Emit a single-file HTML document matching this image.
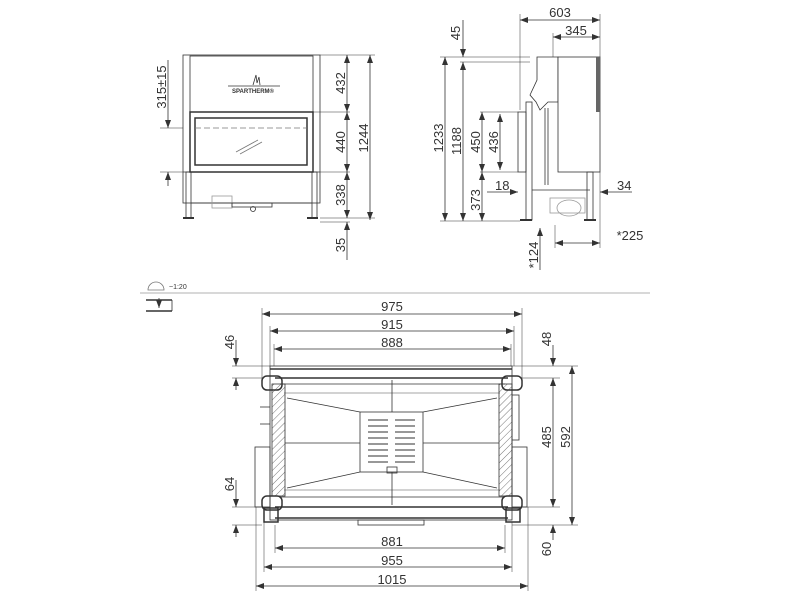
<!DOCTYPE html>
<html><head><meta charset="utf-8"><style>
html,body{margin:0;padding:0;background:#fff;width:800px;height:600px;overflow:hidden}
svg{display:block}
text{font-family:"Liberation Sans",sans-serif;fill:#333}
</style></head><body>
<svg width="800" height="600" viewBox="0 0 800 600" xmlns="http://www.w3.org/2000/svg">
<defs>
<marker id="a" markerWidth="8" markerHeight="6" refX="8" refY="3" orient="auto-start-reverse" markerUnits="userSpaceOnUse"><path d="M0,0 L8,3 L0,6 z" fill="#333"/></marker>
<pattern id="h" width="5" height="5" patternUnits="userSpaceOnUse" patternTransform="rotate(45)"><line x1="0" y1="0" x2="0" y2="5" stroke="#777" stroke-width="1"/></pattern>
</defs>
<g stroke="#333" stroke-width="0.8" fill="none">
<!-- FRONT VIEW -->
<rect x="183" y="55" width="137" height="148" fill="#fff"/>
<rect x="190" y="56" width="123" height="56"/>
<rect x="190" y="112" width="123" height="60" stroke-width="1.5"/>
<rect x="195" y="118" width="112" height="47" stroke-width="1.5"/>
<line x1="195" y1="128" x2="307" y2="128" stroke-dasharray="6,3" stroke="#777"/>
<line x1="236" y1="152" x2="258" y2="140" stroke="#777"/><line x1="240" y1="154" x2="262" y2="142" stroke="#777"/>
<line x1="183" y1="172" x2="320" y2="172"/>
<rect x="186" y="172" width="5" height="46"/><rect x="312" y="172" width="5" height="46"/>
<line x1="191" y1="203" x2="312" y2="203"/>
<rect x="212" y="196" width="20" height="12" stroke="#999"/>
<rect x="232" y="203" width="40" height="4"/>
<circle cx="253" cy="209" r="2.5"/>
<line x1="183" y1="218" x2="194" y2="218" stroke-width="2"/><line x1="307" y1="218" x2="318" y2="218" stroke-width="2"/>
<path d="M253,85 l3,-10 l1,8 l2,-6 l1,8" />
<line x1="228" y1="86" x2="280" y2="86"/>
<!-- front dims -->
<line x1="320" y1="55" x2="375" y2="55" stroke-width="0.5"/>
<line x1="313" y1="112" x2="350" y2="112" stroke-width="0.5"/>
<line x1="320" y1="172" x2="350" y2="172" stroke-width="0.5"/>
<line x1="320" y1="218" x2="375" y2="218" stroke-width="0.5"/>
<line x1="320" y1="222" x2="350" y2="222" stroke-width="0.5"/>
<line x1="347" y1="55" x2="347" y2="112" marker-start="url(#a)" marker-end="url(#a)"/>
<line x1="347" y1="112" x2="347" y2="172" marker-start="url(#a)" marker-end="url(#a)"/>
<line x1="347" y1="172" x2="347" y2="218" marker-start="url(#a)" marker-end="url(#a)"/>
<line x1="347" y1="222" x2="347" y2="260" marker-start="url(#a)"/>
<line x1="370" y1="55" x2="370" y2="220" marker-start="url(#a)" marker-end="url(#a)"/>
<line x1="168" y1="60" x2="168" y2="128" marker-end="url(#a)"/>
<line x1="168" y1="172" x2="168" y2="186" marker-start="url(#a)"/>
<line x1="160" y1="128" x2="183" y2="128" stroke-width="0.5"/>
<line x1="160" y1="172" x2="183" y2="172" stroke-width="0.5"/>
<!-- SIDE VIEW -->
<path d="M537,57 L558,57 L558,102 L548,102 L540,110 L536,102 L530,95 L537,80 Z" fill="#fff"/>
<rect x="558" y="57" width="42" height="115" fill="#fff"/>
<rect x="596" y="57" width="4" height="55" fill="#666" stroke="none"/>
<rect x="518" y="112" width="8" height="60"/>
<rect x="526" y="102" width="6" height="118"/>
<line x1="545" y1="108" x2="545" y2="185"/><line x1="548" y1="108" x2="548" y2="185"/>
<line x1="532" y1="190" x2="590" y2="190"/>
<rect x="587" y="172" width="6" height="48"/>
<ellipse cx="569" cy="208" rx="12" ry="8" stroke="#999"/>
<rect x="550" y="198" width="35" height="15" stroke="#999"/>
<line x1="520" y1="220" x2="532" y2="220" stroke-width="2"/><line x1="584" y1="220" x2="596" y2="220" stroke-width="2"/>
<!-- side dims -->
<line x1="520" y1="20" x2="600" y2="20" marker-start="url(#a)" marker-end="url(#a)"/>
<line x1="553" y1="37" x2="600" y2="37" marker-start="url(#a)" marker-end="url(#a)"/>
<line x1="520" y1="14" x2="520" y2="110" stroke-width="0.5"/>
<line x1="600" y1="14" x2="600" y2="57" stroke-width="0.5"/>
<line x1="553" y1="33" x2="553" y2="57" stroke-width="0.5"/>
<line x1="440" y1="57" x2="530" y2="57" stroke-width="0.5"/>
<line x1="460" y1="62" x2="530" y2="62" stroke-width="0.5"/>
<line x1="480" y1="112" x2="518" y2="112" stroke-width="0.5"/>
<line x1="480" y1="172" x2="518" y2="172" stroke-width="0.5"/>
<line x1="440" y1="221" x2="520" y2="221" stroke-width="0.5"/>
<line x1="445" y1="57" x2="445" y2="221" marker-start="url(#a)" marker-end="url(#a)"/>
<line x1="463" y1="62" x2="463" y2="221" marker-start="url(#a)" marker-end="url(#a)"/>
<line x1="463" y1="20" x2="463" y2="57" marker-end="url(#a)"/>
<line x1="482" y1="112" x2="482" y2="172" marker-start="url(#a)" marker-end="url(#a)"/>
<line x1="500" y1="114" x2="500" y2="170" marker-start="url(#a)" marker-end="url(#a)"/>
<line x1="482" y1="172" x2="482" y2="221" marker-start="url(#a)" marker-end="url(#a)"/>
<line x1="487" y1="192" x2="518" y2="192" marker-end="url(#a)"/>
<line x1="600" y1="192" x2="632" y2="192" marker-start="url(#a)"/>
<line x1="555" y1="243" x2="600" y2="243" marker-start="url(#a)" marker-end="url(#a)"/>
<line x1="600" y1="172" x2="600" y2="248" stroke-width="0.5"/>
<line x1="555" y1="225" x2="555" y2="248" stroke-width="0.5"/>
<line x1="540" y1="228" x2="540" y2="270" marker-start="url(#a)"/>
<!-- separator -->
<line x1="140" y1="293" x2="650" y2="293" stroke="#999"/>
<path d="M148,290 a8,8 0 0 1 16,0 z" stroke="#777"/>
<line x1="146" y1="300" x2="172" y2="300" stroke-width="1.5"/>
<line x1="146" y1="311" x2="172" y2="311" stroke-width="1.5"/>
<line x1="172" y1="300" x2="172" y2="311"/>
<line x1="159" y1="298" x2="159" y2="308" marker-end="url(#a)"/>
<!-- PLAN VIEW -->
<rect x="270" y="366" width="242" height="154" fill="#fff"/>
<line x1="270" y1="369" x2="512" y2="369" stroke-width="1.5"/>
<line x1="275" y1="378" x2="508" y2="378" stroke-width="1.5"/>
<line x1="280" y1="384" x2="505" y2="384"/>
<line x1="284" y1="393" x2="500" y2="393" stroke="#888"/>
<line x1="280" y1="497" x2="505" y2="497"/>
<line x1="284" y1="490" x2="500" y2="490" stroke="#888"/>
<line x1="275" y1="507" x2="508" y2="507" stroke-width="1.5"/>
<line x1="275" y1="518" x2="508" y2="518" stroke-width="1.5"/>
<rect x="272" y="384" width="13" height="112" fill="url(#h)"/>
<rect x="499" y="384" width="13" height="112" fill="url(#h)"/>
<line x1="392" y1="380" x2="392" y2="505"/>
<line x1="285" y1="443" x2="499" y2="443"/>
<line x1="287" y1="398" x2="360" y2="412"/><line x1="497" y1="398" x2="423" y2="412"/>
<line x1="287" y1="488" x2="360" y2="472"/><line x1="497" y1="488" x2="423" y2="472"/>
<rect x="360" y="412" width="63" height="60" fill="#fff"/>
<g stroke="#777" stroke-width="1.5">
<line x1="368" y1="420" x2="388" y2="420"/><line x1="395" y1="420" x2="415" y2="420"/>
<line x1="368" y1="426" x2="388" y2="426"/><line x1="395" y1="426" x2="415" y2="426"/>
<line x1="368" y1="432" x2="388" y2="432"/><line x1="395" y1="432" x2="415" y2="432"/>
<line x1="368" y1="438" x2="388" y2="438"/><line x1="395" y1="438" x2="415" y2="438"/>
<line x1="368" y1="444" x2="388" y2="444"/><line x1="395" y1="444" x2="415" y2="444"/>
<line x1="368" y1="450" x2="388" y2="450"/><line x1="395" y1="450" x2="415" y2="450"/>
<line x1="368" y1="456" x2="388" y2="456"/><line x1="395" y1="456" x2="415" y2="456"/>
<line x1="368" y1="462" x2="388" y2="462"/><line x1="395" y1="462" x2="415" y2="462"/>
</g>
<rect x="387" y="467" width="10" height="6"/>
<rect x="262" y="376" width="20" height="14" rx="5" stroke-width="1.5"/>
<rect x="502" y="376" width="20" height="14" rx="5" stroke-width="1.5"/>
<rect x="262" y="496" width="20" height="14" rx="5" stroke-width="1.5"/>
<rect x="502" y="496" width="20" height="14" rx="5" stroke-width="1.5"/>
<rect x="264" y="508" width="14" height="14" stroke-width="1.5"/>
<rect x="506" y="508" width="14" height="14" stroke-width="1.5"/>
<rect x="255" y="447" width="15" height="60"/>
<rect x="512" y="447" width="15" height="60"/>
<rect x="512" y="395" width="7" height="45"/>
<line x1="260" y1="407" x2="270" y2="407"/><line x1="260" y1="424" x2="270" y2="424"/>
<rect x="358" y="520" width="66" height="5"/>
<!-- plan dims -->
<line x1="262" y1="314" x2="522" y2="314" marker-start="url(#a)" marker-end="url(#a)"/>
<line x1="270" y1="331" x2="514" y2="331" marker-start="url(#a)" marker-end="url(#a)"/>
<line x1="274" y1="349" x2="511" y2="349" marker-start="url(#a)" marker-end="url(#a)"/>
<line x1="275" y1="548" x2="505" y2="548" marker-start="url(#a)" marker-end="url(#a)"/>
<line x1="264" y1="567" x2="512" y2="567" marker-start="url(#a)" marker-end="url(#a)"/>
<line x1="256" y1="586" x2="528" y2="586" marker-start="url(#a)" marker-end="url(#a)"/>
<g stroke-width="0.5">
<line x1="262" y1="308" x2="262" y2="380"/><line x1="522" y1="308" x2="522" y2="380"/>
<line x1="270" y1="326" x2="270" y2="366"/><line x1="514" y1="326" x2="514" y2="366"/>
<line x1="274" y1="344" x2="274" y2="366"/><line x1="511" y1="344" x2="511" y2="366"/>
<line x1="275" y1="525" x2="275" y2="553"/><line x1="505" y1="525" x2="505" y2="553"/>
<line x1="264" y1="522" x2="264" y2="572"/><line x1="512" y1="522" x2="512" y2="572"/>
<line x1="256" y1="507" x2="256" y2="591"/><line x1="528" y1="507" x2="528" y2="591"/>
<line x1="232" y1="366" x2="270" y2="366"/><line x1="232" y1="378" x2="262" y2="378"/>
<line x1="232" y1="507" x2="262" y2="507"/><line x1="232" y1="525" x2="262" y2="525"/>
<line x1="512" y1="366" x2="578" y2="366"/><line x1="522" y1="378" x2="560" y2="378"/>
<line x1="522" y1="507" x2="560" y2="507"/><line x1="512" y1="525" x2="578" y2="525"/>
</g>
<line x1="236" y1="340" x2="236" y2="366" marker-end="url(#a)"/>
<line x1="236" y1="378" x2="236" y2="390" marker-start="url(#a)"/>
<line x1="236" y1="480" x2="236" y2="507" marker-end="url(#a)"/>
<line x1="236" y1="525" x2="236" y2="537" marker-start="url(#a)"/>
<line x1="553" y1="345" x2="553" y2="366" marker-end="url(#a)"/>
<line x1="553" y1="378" x2="553" y2="507" marker-start="url(#a)" marker-end="url(#a)"/>
<line x1="553" y1="525" x2="553" y2="540" marker-start="url(#a)"/>
<line x1="572" y1="366" x2="572" y2="525" marker-start="url(#a)" marker-end="url(#a)"/>
</g>
<text x="253" y="93" font-size="6" text-anchor="middle" font-weight="bold">SPARTHERM®</text>
<g font-size="13">
<text transform="translate(348,83) rotate(-90)" text-anchor="middle" y="-3">432</text>
<text transform="translate(348,142) rotate(-90)" text-anchor="middle" y="-3">440</text>
<text transform="translate(348,195) rotate(-90)" text-anchor="middle" y="-3">338</text>
<text transform="translate(348,245) rotate(-90)" text-anchor="middle" y="-3">35</text>
<text transform="translate(371,138) rotate(-90)" text-anchor="middle" y="-3">1244</text>
<text transform="translate(169,87) rotate(-90)" text-anchor="middle" y="-3">315±15</text>
<text x="560" y="17" text-anchor="middle">603</text>
<text x="576" y="35" text-anchor="middle">345</text>
<text transform="translate(463,33) rotate(-90)" text-anchor="middle" y="-3">45</text>
<text transform="translate(446,138) rotate(-90)" text-anchor="middle" y="-3">1233</text>
<text transform="translate(464,141) rotate(-90)" text-anchor="middle" y="-3">1188</text>
<text transform="translate(483,142) rotate(-90)" text-anchor="middle" y="-3">450</text>
<text transform="translate(501,142) rotate(-90)" text-anchor="middle" y="-3">436</text>
<text transform="translate(483,200) rotate(-90)" text-anchor="middle" y="-3">373</text>
<text x="495" y="190">18</text>
<text x="617" y="190">34</text>
<text x="630" y="240" text-anchor="middle">*225</text>
<text transform="translate(541,255) rotate(-90)" text-anchor="middle" y="-3">*124</text>
<text x="392" y="311" text-anchor="middle">975</text>
<text x="392" y="329" text-anchor="middle">915</text>
<text x="392" y="347" text-anchor="middle">888</text>
<text x="392" y="546" text-anchor="middle">881</text>
<text x="392" y="565" text-anchor="middle">955</text>
<text x="392" y="584" text-anchor="middle">1015</text>
<text transform="translate(237,342) rotate(-90)" text-anchor="middle" y="-3">46</text>
<text transform="translate(237,484) rotate(-90)" text-anchor="middle" y="-3">64</text>
<text transform="translate(554,339) rotate(-90)" text-anchor="middle" y="-3">48</text>
<text transform="translate(554,437) rotate(-90)" text-anchor="middle" y="-3">485</text>
<text transform="translate(573,437) rotate(-90)" text-anchor="middle" y="-3">592</text>
<text transform="translate(554,549) rotate(-90)" text-anchor="middle" y="-3">60</text>
</g>
<text x="169" y="289" font-size="7">~1:20</text>
</svg>
</body></html>
